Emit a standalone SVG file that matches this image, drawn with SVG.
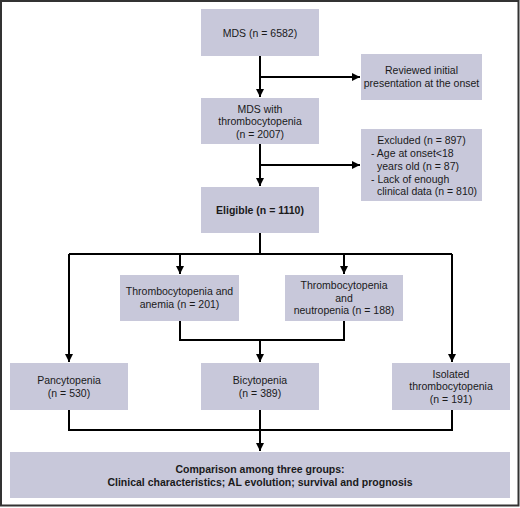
<svg xmlns="http://www.w3.org/2000/svg" width="520" height="508" viewBox="0 0 520 508">
<style>
.box{fill:#c8c8da;}
.t{font-family:"Liberation Sans",Arial,sans-serif;font-size:10.5px;fill:#1a1a1a;text-anchor:middle;}
.b{font-weight:bold;}
.l{fill:none;stroke:#000;stroke-width:2;}
</style>
<defs>
<marker id="ah" markerWidth="8" markerHeight="8" refX="8" refY="4" orient="auto" markerUnits="userSpaceOnUse">
<path d="M0,0 L8,4 L0,8 z" fill="#000"/>
</marker>
</defs>
<rect width="520" height="508" fill="#fff"/>
<rect x="1" y="1" width="517.5" height="504.5" fill="none" stroke="#333" stroke-width="2"/>
<g id="connectors">
<path class="l" d="M260,56 V97" marker-end="url(#ah)"/>
<path class="l" d="M260,77 H360" marker-end="url(#ah)"/>
<path class="l" d="M260,144 V186" marker-end="url(#ah)"/>
<path class="l" d="M260,165 H360" marker-end="url(#ah)"/>
<path class="l" d="M260,233 V254"/>
<path class="l" d="M69,254 H452"/>
<path class="l" d="M69,254 V362" marker-end="url(#ah)"/>
<path class="l" d="M452,254 V362" marker-end="url(#ah)"/>
<path class="l" d="M180,254 V274" marker-end="url(#ah)"/>
<path class="l" d="M344,254 V274" marker-end="url(#ah)"/>
<path class="l" d="M180,321 V340 H344 V321"/>
<path class="l" d="M260,340 V362" marker-end="url(#ah)"/>
<path class="l" d="M69,410 V430 H452 V410"/>
<path class="l" d="M260,410 V451" marker-end="url(#ah)"/>
</g>
<g id="mds">
<rect class="box" x="201" y="9" width="118" height="47"/>
<text class="t" x="260" y="36.5">MDS (n = 6582)</text>
</g>
<g id="reviewed">
<rect class="box" x="361" y="54" width="121" height="46"/>
<text class="t" x="421.5" y="74">Reviewed initial</text>
<text class="t" x="421.5" y="87">presentation at the onset</text>
</g>
<g id="mds-thrombo">
<rect class="box" x="201" y="98" width="118" height="46"/>
<text class="t" x="260" y="112.5">MDS with</text>
<text class="t" x="260" y="125">thrombocytopenia</text>
<text class="t" x="260" y="137.5">(n = 2007)</text>
</g>
<g id="excluded">
<rect class="box" x="361" y="129" width="121" height="72"/>
<text class="t" x="421.5" y="144">Excluded (n = 897)</text>
<text class="t" x="371" y="157" text-anchor="start" style="text-anchor:start">- Age at onset&lt;18</text>
<text class="t" x="377" y="170" style="text-anchor:start">years old (n = 87)</text>
<text class="t" x="371" y="182.5" style="text-anchor:start">- Lack of enough</text>
<text class="t" x="377" y="194.5" style="text-anchor:start">clinical data (n = 810)</text>
</g>
<g id="eligible">
<rect class="box" x="201" y="187" width="118" height="46"/>
<text class="t b" x="260" y="213.5">Eligible (n = 1110)</text>
</g>
<g id="thrombo-anemia">
<rect class="box" x="120" y="275" width="119" height="46"/>
<text class="t" x="179.5" y="295">Thrombocytopenia and</text>
<text class="t" x="179.5" y="308">anemia (n = 201)</text>
</g>
<g id="thrombo-neutro">
<rect class="box" x="285" y="275" width="118" height="46"/>
<text class="t" x="344" y="289">Thrombocytopenia</text>
<text class="t" x="344" y="301.5">and</text>
<text class="t" x="344" y="314">neutropenia (n = 188)</text>
</g>
<g id="pancytopenia">
<rect class="box" x="10" y="363" width="118" height="47"/>
<text class="t" x="69" y="384">Pancytopenia</text>
<text class="t" x="69" y="396.5">(n = 530)</text>
</g>
<g id="bicytopenia">
<rect class="box" x="201" y="363" width="118" height="47"/>
<text class="t" x="260" y="384">Bicytopenia</text>
<text class="t" x="260" y="396.5">(n = 389)</text>
</g>
<g id="isolated">
<rect class="box" x="392" y="363" width="118" height="47"/>
<text class="t" x="451" y="377.5">Isolated</text>
<text class="t" x="451" y="390">thrombocytopenia</text>
<text class="t" x="451" y="402.5">(n = 191)</text>
</g>
<g id="comparison">
<rect class="box" x="10" y="452" width="500" height="46"/>
<text class="t b" x="260" y="472.5">Comparison among three groups:</text>
<text class="t b" x="260" y="485.5">Clinical characteristics; AL evolution; survival and prognosis</text>
</g>
</svg>
